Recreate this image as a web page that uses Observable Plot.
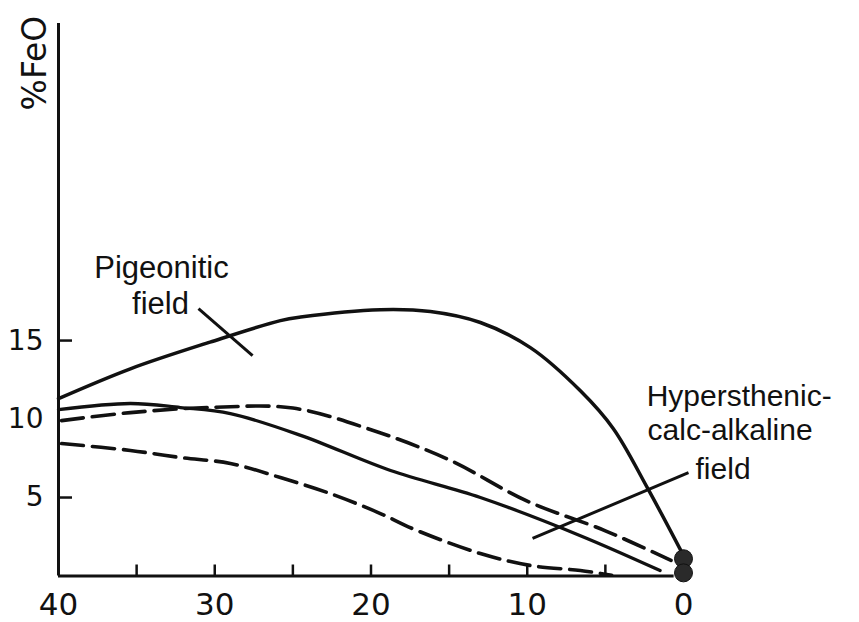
<!DOCTYPE html>
<html><head><meta charset="utf-8">
<script src="https://cdn.jsdelivr.net/npm/d3@7"></script>
<script src="https://cdn.jsdelivr.net/npm/@observablehq/plot@0.6"></script>
<style>body{margin:0;background:#fff}</style>
</head><body><div id="chart"></div>
<script>
// Pigeonitic field boundary (upper solid curve)
const pigeoniticX = [40, 35.4, 30.3, 25.8, 24.5, 19.4, 16.2, 13.0, 9.8, 6.6, 4.5, 2.3, 0];
const pigeoniticY = [11.3, 13.2, 14.9, 16.27, 16.5, 16.97, 16.85, 16.15, 14.55, 11.8, 9.4, 5.6, 1.3];
// middle solid trend
const solidX = [40, 35.4, 32.2, 29.0, 24.5, 18.75, 13.0, 6.6, 1.5];
const solidY = [10.6, 10.99, 10.73, 10.35, 8.96, 6.72, 5.0, 2.57, 0.35];
// upper dashed trend
const dashUpX = [39.8, 35.4, 30, 25, 20, 15, 10, 5, 0.8];
const dashUpY = [9.9, 10.41, 10.75, 10.7, 9.32, 7.4, 4.77, 2.88, 0.99];
// lower dashed trend
const dashLowX = [39.8, 35.4, 32.2, 29.0, 25.8, 22.6, 19.4, 17.3, 13.0, 9.8, 6.6, 4.6];
const dashLowY = [8.44, 8.0, 7.55, 7.17, 6.27, 5.25, 3.98, 3.0, 1.43, 0.67, 0.35, 0.05];
// end-member blobs at 0
const blobX = [0, 0];
const blobY = [1.1, 0.2];
// tick labels
const xTickLabels = [40, 30, 20, 10, 0];
const xMinorTicks = [35, 30, 25, 20, 15, 10, 5];
const yTickLabels = [5, 10, 15];
const yTickMarks = [5, 15];

const toPts = (xs, ys) => xs.map((x, i) => ({x, y: ys[i]}));
const ink = "#111";
const font = "Liberation Sans, Arial, sans-serif";
const W = 859, H = 622, mL = 58, mR = 176, mT = 23, mB = 46.5;

const chart = Plot.plot({
  width: W,
  height: H,
  marginLeft: mL,
  marginRight: mR,
  marginTop: mT,
  marginBottom: mB,
  x: {domain: [40, 0]},
  y: {domain: [0, 35.2]},
  style: {fontFamily: "DejaVu Sans, sans-serif", color: ink, background: "#fff"},
  marks: [
    // axes lines
    Plot.ruleX([40], {y1: 0, y2: 35.2, stroke: ink, strokeWidth: 3}),
    Plot.ruleY([0], {x1: 40, x2: 0.6, stroke: ink, strokeWidth: 3}),
    // inward ticks (drawn from the opposite anchor, shifted onto the axis lines)
    Plot.axisX({anchor: "top", ticks: xMinorTicks, tickSize: 12, tickFormat: () => "", strokeWidth: 2.5, label: null, dy: H - mT - mB}),
    Plot.axisY({anchor: "right", ticks: yTickMarks, tickSize: 13, tickFormat: () => "", strokeWidth: 2.5, label: null, dx: -(W - mL - mR)}),
    // tick labels
    Plot.axisX({ticks: xTickLabels, tickSize: 0, tickPadding: 17, fontSize: 31, label: null, tickFormat: d => String(d)}),
    Plot.axisY({ticks: yTickLabels, tickSize: 0, tickPadding: 15, fontSize: 28, label: null, tickFormat: d => String(d)}),
    // y axis title
    Plot.text(["%FeO"], {x: 41.47, y: 35.7, rotate: -90, textAnchor: "end", lineAnchor: "middle", fontSize: 33, fontFamily: "DejaVu Sans, sans-serif", fill: ink}),
    // curves
    Plot.line(toPts(pigeoniticX, pigeoniticY), {x: "x", y: "y", stroke: ink, strokeWidth: 3.5, curve: "catmull-rom"}),
    Plot.line(toPts(solidX, solidY), {x: "x", y: "y", stroke: ink, strokeWidth: 3.3, curve: "catmull-rom"}),
    Plot.line(toPts(dashUpX, dashUpY), {x: "x", y: "y", stroke: ink, strokeWidth: 3.6, strokeDasharray: "22,9", curve: "catmull-rom"}),
    Plot.line(toPts(dashLowX, dashLowY), {x: "x", y: "y", stroke: ink, strokeWidth: 3.6, strokeDasharray: "22,9", curve: "catmull-rom"}),
    // leader lines
    Plot.link([{x1: 31.04, y1: 17.04, x2: 27.58, y2: 14.04}], {x1: "x1", y1: "y1", x2: "x2", y2: "y2", stroke: ink, strokeWidth: 3}),
    Plot.link([{x1: -0.32, y1: 6.59, x2: 9.66, y2: 2.39}], {x1: "x1", y1: "y1", x2: "x2", y2: "y2", stroke: ink, strokeWidth: 3}),
    // blobs
    Plot.dot(toPts(blobX, blobY), {x: "x", y: "y", r: 9, fill: "#2a2a2a", stroke: ink, strokeWidth: 1}),
    // annotations
    Plot.text(["Pigeonitic"], {x: 33.41, y: 19.6, textAnchor: "middle", lineAnchor: "middle", fontSize: 31, fontFamily: font, fill: ink}),
    Plot.text(["field"], {x: 33.47, y: 17.3, textAnchor: "middle", lineAnchor: "middle", fontSize: 31, fontFamily: font, fill: ink}),
    Plot.text(["Hypersthenic-"], {x: 2.36, y: 11.43, textAnchor: "start", lineAnchor: "middle", fontSize: 30, fontFamily: font, fill: ink}),
    Plot.text(["calc-alkaline"], {x: 2.30, y: 9.26, textAnchor: "start", lineAnchor: "middle", fontSize: 30, fontFamily: font, fill: ink}),
    Plot.text(["field"], {x: -0.77, y: 6.82, textAnchor: "start", lineAnchor: "middle", fontSize: 30, fontFamily: font, fill: ink})
  ]
});
document.getElementById("chart").append(chart);
</script>
</body></html>
